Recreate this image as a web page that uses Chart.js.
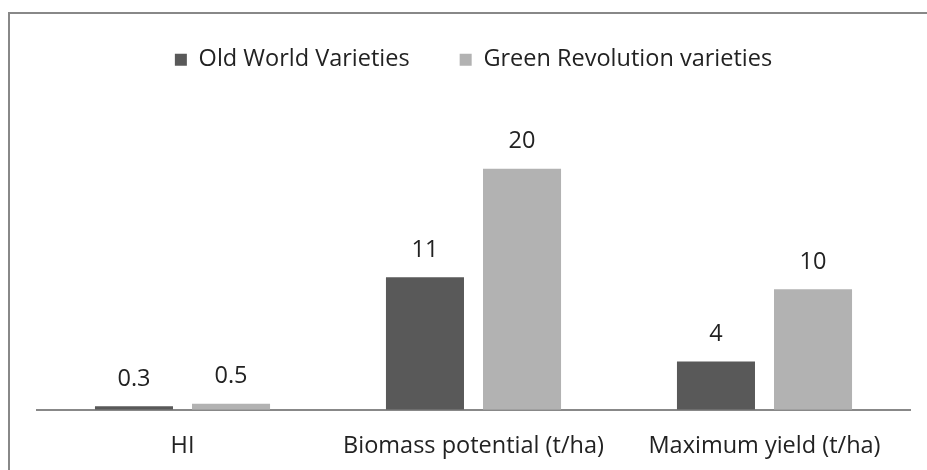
<!DOCTYPE html>
<html>
<head>
<meta charset="utf-8">
<script src="https://cdn.jsdelivr.net/npm/chart.js@4"></script>
<style>
  html, body { margin: 0; background: #fff; overflow: hidden; }
  #frame { position: absolute; left: 8px; top: 12px; width: 930px; height: 470px;
           border-top: 2px solid #888; border-left: 2px solid #888; }
  #chart { position: absolute; left: 0; top: 0; }
</style>
</head>
<body>
<div id="frame"></div>
<canvas id="chart" width="927" height="500"></canvas>
<script>
// values
const categories = ['HI', 'Biomass potential (t/ha)', 'Maximum yield (t/ha)'];
const oldWorld = [0.3, 11, 4];
const greenRevolution = [0.5, 20, 10];
const seriesNames = ['Old World Varieties', 'Green Revolution varieties'];

const textColor = '#222';
const fontFamily = "'Open Sans', 'Liberation Sans', sans-serif";
const fontSize = 23.5;

// value labels above the bars
const valueLabels = {
    id: 'valueLabels',
    afterDatasetsDraw: function (chart) {
        const ctx = chart.ctx;
        ctx.save();
        ctx.font = fontSize + 'px ' + fontFamily;
        ctx.fillStyle = textColor;
        ctx.textAlign = 'center';
        ctx.textBaseline = 'middle';
        chart.data.datasets.forEach(function (ds, i) {
            chart.getDatasetMeta(i).data.forEach(function (bar, j) {
                ctx.fillText(String(ds.data[j]), bar.x, bar.y - 27);
            });
        });
        ctx.restore();
    }
};

// extra room between legend and plot
const legendMargin = {
    id: 'legendMargin',
    beforeInit: function (chart) {
        const fit = chart.legend.fit;
        chart.legend.fit = function () {
            fit.bind(chart.legend)();
            this.height += 27;
        };
    }
};

new Chart(document.getElementById('chart'), {
    type: 'bar',
    data: {
        labels: categories,
        datasets: [{
            label: seriesNames[0],
            data: oldWorld,
            backgroundColor: '#595959',
            categoryPercentage: 0.667,
            barPercentage: 0.804
        }, {
            label: seriesNames[1],
            data: greenRevolution,
            backgroundColor: '#b2b2b2',
            categoryPercentage: 0.667,
            barPercentage: 0.804
        }]
    },
    options: {
        responsive: false,
        devicePixelRatio: 1,
        animation: false,
        layout: { padding: { left: 37, right: 17, top: -2, bottom: 18 } },
        plugins: {
            legend: {
                position: 'top',
                labels: {
                    boxWidth: 12,
                    boxHeight: 12,
                    padding: 50,
                    color: textColor,
                    font: { size: fontSize, family: fontFamily }
                }
            },
            tooltip: { enabled: false }
        },
        scales: {
            x: {
                grid: { display: false, drawTicks: false },
                border: { color: '#888', width: 2 },
                ticks: { color: textColor, padding: 22, font: { size: fontSize, family: fontFamily } }
            },
            y: {
                display: false,
                min: 0,
                max: 25
            }
        }
    },
    plugins: [valueLabels, legendMargin]
});
</script>
</body>
</html>
